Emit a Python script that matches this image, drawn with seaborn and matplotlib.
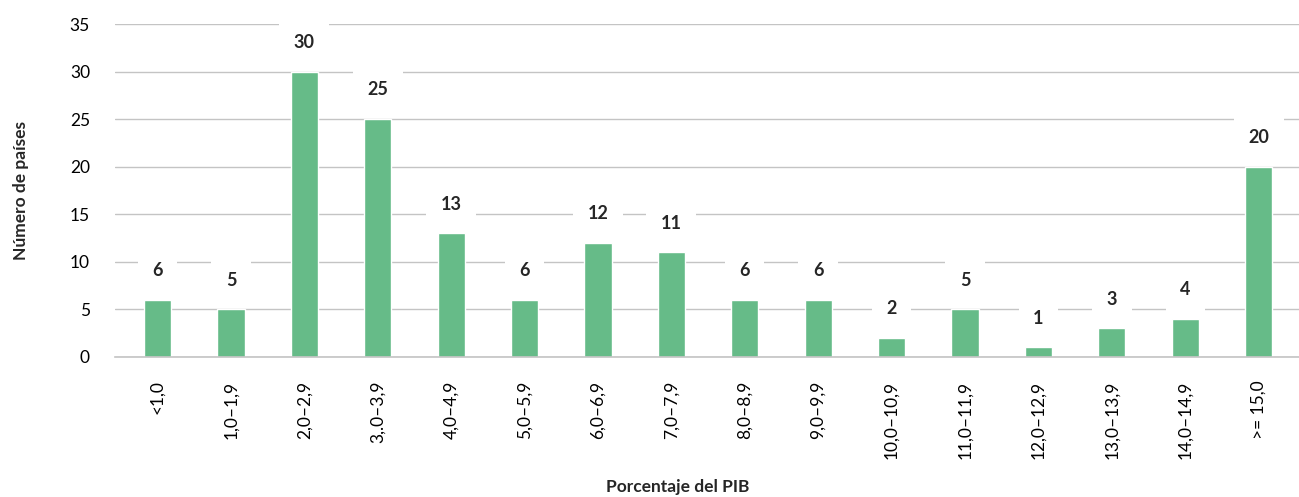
import pandas as pd
import matplotlib
matplotlib.use("Agg")
import matplotlib.pyplot as plt
import seaborn as sns

categories = ["<1,0", "1,0–1,9", "2,0–2,9", "3,.0–3,9", "4,0–4,9", "5,0–5,9",
              "6,0–6,9", "7,0–7,9", "8,0–8,9", "9,0–9,9", "10,0–10,9",
              "11,0–11,9", "12,0–12,9", "13,0–13,9", "14,0–14,9", ">= 15,0"]
counts = [6, 5, 30, 25, 13, 6, 12, 11, 6, 6, 2, 5, 1, 3, 4, 20]
y_ticks = [0, 5, 10, 15, 20, 25, 30, 35]

sns.set_theme(style="white")
plt.rcParams["font.family"] = ["Lato", "DejaVu Sans"]

df = pd.DataFrame({"rango": categories, "paises": counts})

fig = plt.figure(figsize=(12.99, 4.97), dpi=100)
ax = fig.add_axes([0.0885, 0.2817, 0.9115, 0.67])

sns.barplot(data=df, x="rango", y="paises", ax=ax, color="#66bb88",
            width=0.37, saturation=1, zorder=2)

ax.set_ylim(0, 35)
ax.set_xlim(-0.58, 15.55)
ax.set_yticks(y_ticks)
ax.yaxis.grid(True, color="#c4c4c4", linewidth=1, zorder=0)
ax.set_axisbelow(True)
for s in ["top", "right", "left"]:
    ax.spines[s].set_visible(False)
ax.spines["bottom"].set_color("#c4c4c4")
ax.spines["bottom"].set_linewidth(1.2)

ax.tick_params(axis="x", rotation=90, labelsize=12.5, length=0, pad=17, colors="black")
ax.tick_params(axis="y", labelsize=12.5, length=0, pad=18, colors="black")

for i, v in enumerate(counts):
    ax.annotate(str(v), xy=(i, v), xytext=(0, 21), textcoords="offset points",
                ha="center", va="center", fontsize=13, fontweight="bold",
                bbox=dict(boxstyle="square,pad=0.8", fc="white", ec="none"),
                zorder=3)

ax.set_xlabel("Porcentaje del PIB", fontsize=12.5, fontweight="bold")
ax.set_ylabel("Número de países", fontsize=12.5, fontweight="bold")
ax.xaxis.set_label_coords(0.475, -0.365)
ax.yaxis.set_label_coords(-0.073, 0.5)

plt.savefig("out.png", dpi=100)
